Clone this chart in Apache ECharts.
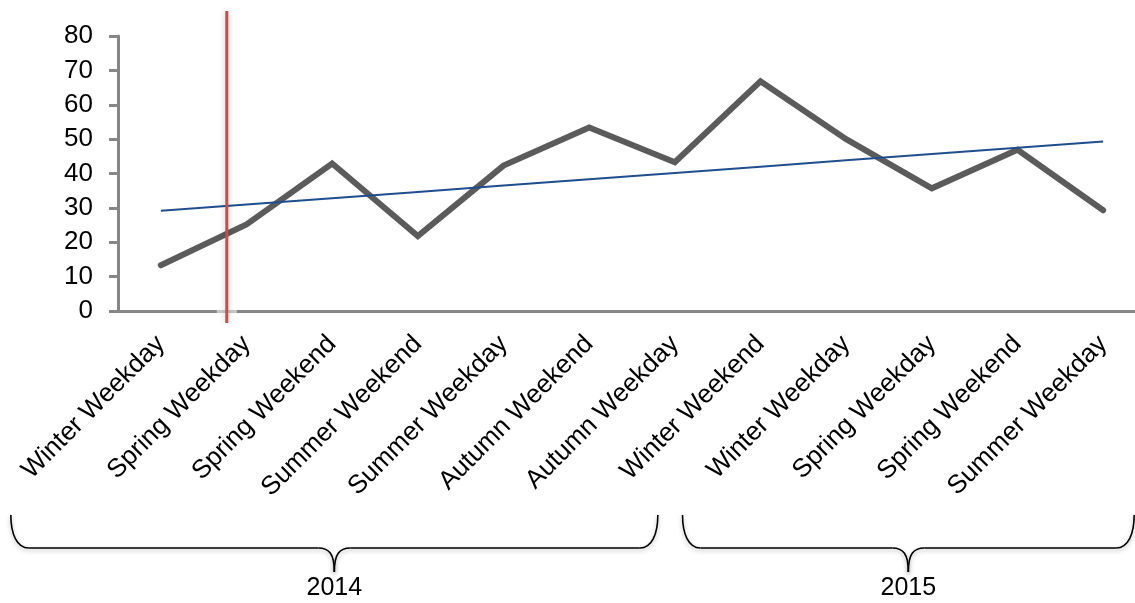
<!DOCTYPE html>
<html>
<head>
<meta charset="utf-8">
<title>Seasonal visits</title>
<script src="https://cdn.jsdelivr.net/npm/echarts@6/dist/echarts.min.js"></script>
<style>
  html, body { margin: 0; padding: 0; background: #ffffff; }
  #chart { width: 1135px; height: 603px; }
</style>
</head>
<body>
<div id="chart"></div>
<script>
// Periods along the x axis
const categories = [
  'Winter Weekday', 'Spring Weekday', 'Spring Weekend', 'Summer Weekend',
  'Summer Weekday', 'Autumn Weekend', 'Autumn Weekday', 'Winter Weekend',
  'Winter Weekday', 'Spring Weekday', 'Spring Weekend', 'Summer Weekday'
];
// Measured value per period
const values = [13.3, 25.2, 42.9, 21.8, 42.3, 53.4, 43.3, 66.8, 50.0, 35.7, 46.9, 29.3];
// Y axis ticks
const yTicks = [0, 10, 20, 30, 40, 50, 60, 70, 80];
// Year groups: first and last category index covered by each brace
const yearGroups = [
  { label: '2014', from: 0, to: 6 },
  { label: '2015', from: 7, to: 11 }
];
// Vertical marker position, in category units
const markerAt = 0.77;

// Least-squares linear trend of the values
function linearTrend(ys) {
  const n = ys.length;
  const mx = (n - 1) / 2;
  const my = ys.reduce((a, b) => a + b, 0) / n;
  let sxy = 0, sxx = 0;
  ys.forEach((y, i) => { sxy += (i - mx) * (y - my); sxx += (i - mx) * (i - mx); });
  const slope = sxy / sxx;
  return ys.map((_, i) => +(my + slope * (i - mx)).toFixed(3));
}
const trend = linearTrend(values);

const FONT = '"Liberation Sans", Arial, Helvetica, sans-serif';
const AXIS_GRAY = '#868686';
const FONT_SIZE = 26;

const chart = echarts.init(document.getElementById('chart'), null, { renderer: 'canvas' });

chart.setOption({
  backgroundColor: '#ffffff',
  animation: false,
  grid: {
    left: 118, top: 36, width: 1028, bottom: 292,
    containLabel: false, outerBoundsMode: 'none'
  },
  xAxis: {
    type: 'category',
    data: categories,
    boundaryGap: true,
    axisLine: { show: true, lineStyle: { color: AXIS_GRAY, width: 3 } },
    axisTick: { show: false },
    axisLabel: {
      interval: 0,
      rotate: 45,
      margin: 29,
      color: '#000000',
      fontFamily: FONT,
      fontSize: FONT_SIZE
    },
    splitLine: { show: false }
  },
  yAxis: {
    type: 'value',
    min: yTicks[0],
    max: yTicks[yTicks.length - 1],
    interval: yTicks[1] - yTicks[0],
    axisLine: { show: true, lineStyle: { color: AXIS_GRAY, width: 3 } },
    axisTick: { show: true, inside: false, length: 9, lineStyle: { color: AXIS_GRAY, width: 3 } },
    axisLabel: {
      margin: 25,
      color: '#000000',
      fontFamily: FONT,
      fontSize: FONT_SIZE
    },
    splitLine: { show: false }
  },
  series: [
    {
      name: 'Value',
      type: 'line',
      data: values,
      symbol: 'none',
      z: 3,
      lineStyle: { color: '#5b5b5b', width: 6, cap: 'round', join: 'miter' }
    },
    {
      name: 'Linear trend',
      type: 'line',
      data: trend,
      symbol: 'none',
      z: 4,
      lineStyle: { color: '#1f4e8c', width: 2 }
    }
  ]
});

// Overlays positioned from the chart's own scales
function drawOverlays() {
  const p0 = chart.convertToPixel({ xAxisIndex: 0 }, 0);
  const p1 = chart.convertToPixel({ xAxisIndex: 0 }, 1);
  const band = p1 - p0;
  const catX = (i) => p0 + i * band;
  const axisY = chart.convertToPixel({ yAxisIndex: 0 }, 0);

  const mx = catX(markerAt);
  const elements = [];

  // Vertical marker with a faint glow
  elements.push({
    type: 'rect',
    shape: { x: mx - 10, y: axisY - 2, width: 20, height: 4 },
    style: { fill: 'rgba(255,255,255,0.55)' },
    z: 10
  });
  elements.push({
    type: 'line',
    shape: { x1: mx, y1: 11, x2: mx, y2: axisY + 12 },
    style: {
      stroke: '#c0504d', lineWidth: 3,
      shadowBlur: 6, shadowColor: 'rgba(0,0,0,0.25)'
    },
    z: 11
  });

  // Braces grouping the categories by year
  const top = axisY + 204, mid = axisY + 237, tipY = axisY + 261;
  const braceSpan = [
    { left: catX(0) - 150, right: catX(6) - 17 },
    { left: catX(7) - 78, right: catX(11) + 31 }
  ];
  const braceStyle = {
    stroke: '#000000', lineWidth: 1.6, fill: null,
    shadowBlur: 4, shadowOffsetY: 2, shadowColor: 'rgba(0,0,0,0.3)'
  };
  const curve = (x1, y1, cx1, cy1, cx2, cy2, x2, y2) => ({
    type: 'bezierCurve',
    shape: { x1, y1, cpx1: cx1, cpy1: cy1, cpx2: cx2, cpy2: cy2, x2, y2 },
    style: braceStyle, z: 10
  });
  const seg = (x1, y1, x2, y2) => ({
    type: 'line', shape: { x1, y1, x2, y2 }, style: braceStyle, z: 10
  });
  yearGroups.forEach((g, k) => {
    const L = braceSpan[k].left, R = braceSpan[k].right;
    const T = (L + R) / 2;
    elements.push(curve(L, top, L, mid - 14, L + 6, mid, L + 18, mid));
    elements.push(seg(L + 18, mid, T - 16, mid));
    elements.push(curve(T - 16, mid, T - 5, mid, T, mid + 6, T, tipY));
    elements.push(curve(T, tipY, T, mid + 6, T + 5, mid, T + 16, mid));
    elements.push(seg(T + 16, mid, R - 18, mid));
    elements.push(curve(R - 18, mid, R - 6, mid, R, mid - 14, R, top));
    elements.push({
      type: 'text',
      x: T, y: axisY + 277,
      style: {
        text: g.label, fill: '#000000', font: `${FONT_SIZE - 1}px ${FONT}`,
        textAlign: 'center', textVerticalAlign: 'middle'
      },
      z: 10
    });
  });

  chart.setOption({ graphic: { elements } });
}
drawOverlays();
</script>
</body>
</html>
